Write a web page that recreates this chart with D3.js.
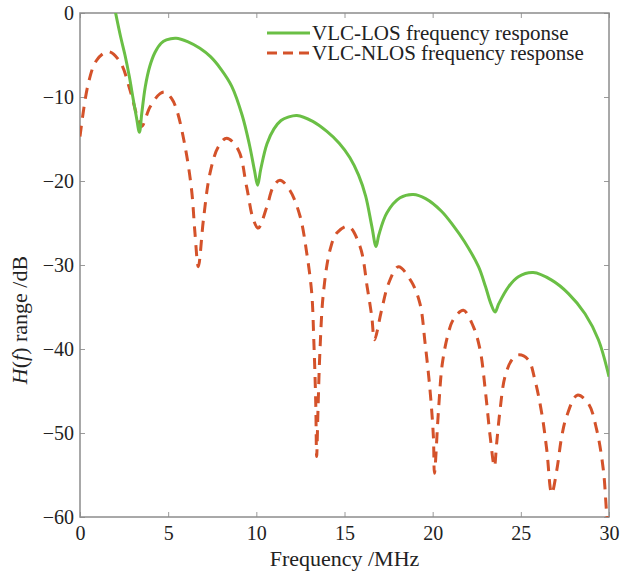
<!DOCTYPE html>
<html>
<head>
<meta charset="utf-8">
<script src="https://cdn.jsdelivr.net/npm/d3@7"></script>
<style>
  body { margin: 0; background: #fff; }
  text { font-family: "Liberation Serif", "Times New Roman", serif; fill: #222; }
</style>
</head>
<body>
<svg id="svg" width="620" height="573"></svg>
<script>
// values (MHz, dB)
var losFreq = [2.0, 2.3, 2.55, 2.8, 3.02, 3.2, 3.37, 3.5, 3.7, 3.95, 4.25, 4.6, 4.9, 5.45, 6.1, 6.8, 7.4, 8.0, 8.6,
  9.2, 9.6, 9.9, 10.07, 10.25, 10.6, 11.0, 11.4, 11.8, 12.3, 13.2, 14.0, 14.7, 15.3, 15.8, 16.2, 16.55, 16.79,
  16.95, 17.4, 18.15, 18.9, 19.6, 20.5, 21.2, 21.8, 22.6, 23.0, 23.3, 23.54, 23.75, 24.3, 24.86, 25.7, 26.75,
  27.7, 28.64, 29.4, 30.0];
var losDB = [0.2, -2.8, -5.0, -7.6, -10.3, -12.4, -14.2, -12.0, -8.8, -6.4, -4.7, -3.6, -3.2, -3.0, -3.4, -4.2,
  -5.2, -6.7, -8.7, -12.2, -15.6, -18.8, -20.5, -18.6, -15.6, -13.8, -12.8, -12.4, -12.2, -12.9, -14.1, -15.5,
  -17.2, -19.3, -21.8, -25.4, -27.8, -26.4, -23.8, -22.0, -21.6, -22.1, -23.6, -25.4, -27.2, -30.2, -32.6,
  -34.6, -35.6, -34.6, -32.6, -31.4, -30.9, -31.8, -33.4, -35.8, -38.9, -43.3];

var nlosFreq = [0, 0.47, 0.95, 1.6, 2.27, 2.84, 3.3, 3.5, 3.97, 4.54, 4.82, 5.2, 5.48, 5.96, 6.33, 6.52, 6.71,
  7.0, 7.37, 7.85, 8.32, 8.98, 9.45, 9.83, 10.11, 10.59, 10.96, 11.34, 11.9, 12.48, 12.86, 13.14, 13.26, 13.37,
  13.42, 13.5, 13.61, 13.8, 14.18, 14.56, 15.22, 15.88, 16.3, 16.55, 16.7, 17.1, 17.5, 18.06, 18.8, 19.28,
  19.57, 19.85, 20.04, 20.1, 20.33, 20.55, 20.89, 21.17, 21.74, 22.3, 22.69, 23.0, 23.26, 23.5, 23.63, 23.82,
  24.1, 24.49, 24.86, 25.43, 25.8, 26.19, 26.47, 26.75, 27.04, 27.32, 27.6, 28.2, 28.83, 29.3, 29.68, 29.87, 30.0];
var nlosDB = [-14.7, -8.4, -5.6, -4.6, -5.8, -9.2, -12.7, -13.5, -11.2, -9.6, -9.4, -10.2, -11.5, -15.9, -21.1,
  -26.2, -30.2, -24.6, -19.1, -15.9, -14.9, -16.3, -20.7, -24.6, -25.6, -23.1, -20.7, -19.9, -21.1, -24.2,
  -28.6, -33.3, -39.0, -46.5, -52.8, -47.0, -40.1, -33.4, -28.2, -26.2, -25.4, -27.8, -32.8, -36.2, -38.9,
  -35.4, -32.2, -30.2, -32.0, -34.6, -39.3, -44.9, -50.4, -54.8, -47.3, -41.7, -38.1, -36.5, -35.4, -37.3,
  -40.1, -45.2, -50.4, -54.0, -51.2, -47.3, -43.3, -41.3, -40.7, -41.3, -43.7, -47.7, -52.0, -57.2, -54.4,
  -50.4, -48.0, -45.5, -46.5, -49.6, -54.4, -59.6, -62.0];

var xTicks = [0, 5, 10, 15, 20, 25, 30];
var yTicks = [0, -10, -20, -30, -40, -50, -60];
var seriesNames = ["VLC-LOS frequency response", "VLC-NLOS frequency response"];

(function() {
  'use strict';

  var margin = {top: 13, right: 11, bottom: 56, left: 80};
  var width = 620 - margin.left - margin.right;
  var height = 573 - margin.top - margin.bottom;

  var svg = d3.select("#svg");
  var g = svg.append("g")
    .attr("transform", "translate(" + margin.left + "," + margin.top + ")");

  var x = d3.scaleLinear().domain([0, 30]).range([0, width]);
  var y = d3.scaleLinear().domain([-60, 0]).range([height, 0]);

  g.append("clipPath").attr("id", "clip")
    .append("rect").attr("width", width).attr("height", height);

  // axes, ticks pointing inward
  var fmt = d3.format("d");
  function styleAxis(sel) {
    sel.select(".domain").remove();
    sel.selectAll(".tick line").attr("stroke", "#9a9a9a").attr("stroke-width", 1);
    sel.selectAll(".tick text").style("font-size", "20px").attr("fill", "#222");
  }

  g.append("g")
    .attr("transform", "translate(0," + height + ")")
    .call(d3.axisBottom(x).tickValues(xTicks).tickFormat(fmt).tickSizeInner(-5).tickSizeOuter(0).tickPadding(9))
    .call(styleAxis);
  g.append("g")
    .call(d3.axisLeft(y).tickValues(yTicks).tickFormat(fmt).tickSizeInner(-5).tickSizeOuter(0).tickPadding(6))
    .call(styleAxis);
  g.append("g")
    .call(d3.axisTop(x).tickValues(xTicks).tickFormat("").tickSizeInner(-5).tickSizeOuter(0))
    .call(styleAxis);
  g.append("g")
    .attr("transform", "translate(" + width + ",0)")
    .call(d3.axisRight(y).tickValues(yTicks).tickFormat("").tickSizeInner(-5).tickSizeOuter(0))
    .call(styleAxis);

  // frame
  g.append("rect")
    .attr("width", width).attr("height", height)
    .attr("fill", "none").attr("stroke", "#8c8c8c").attr("stroke-width", 1.5);

  var line = d3.line()
    .curve(d3.curveCatmullRom.alpha(0.5))
    .x(function(d) { return x(d[0]); })
    .y(function(d) { return y(d[1]); });

  var los = d3.zip(losFreq, losDB);
  var nlos = d3.zip(nlosFreq, nlosDB);

  var plot = g.append("g").attr("clip-path", "url(#clip)");
  plot.append("path")
    .attr("d", line(nlos))
    .attr("fill", "none")
    .attr("stroke", "#d4522a")
    .attr("stroke-width", 3)
    .attr("stroke-dasharray", "11,8");
  plot.append("path")
    .attr("d", line(los))
    .attr("fill", "none")
    .attr("stroke", "#6abf45")
    .attr("stroke-width", 3);

  // legend
  var legend = g.append("g").attr("transform", "translate(187,20)");
  var legendStyles = [
    {color: "#6abf45", dash: null},
    {color: "#d4522a", dash: "10,6"}
  ];
  seriesNames.forEach(function(name, i) {
    var row = legend.append("g").attr("transform", "translate(0," + (i * 20) + ")");
    row.append("line")
      .attr("x1", 0).attr("x2", 43)
      .attr("stroke", legendStyles[i].color)
      .attr("stroke-width", 3)
      .attr("stroke-dasharray", legendStyles[i].dash);
    row.append("text")
      .attr("x", 45).attr("y", 7)
      .style("font-size", "21px")
      .text(name);
  });

  // axis titles
  svg.append("text")
    .attr("x", margin.left + width / 2)
    .attr("y", 566)
    .attr("text-anchor", "middle")
    .style("font-size", "22px")
    .text("Frequency /MHz");

  var yl = svg.append("text")
    .attr("transform", "translate(27,320) rotate(-90)")
    .attr("text-anchor", "middle")
    .style("font-size", "22px");
  yl.append("tspan").style("font-style", "italic").text("H");
  yl.append("tspan").text("(");
  yl.append("tspan").style("font-style", "italic").text("f");
  yl.append("tspan").text(") range /dB");
}());
</script>
</body>
</html>
